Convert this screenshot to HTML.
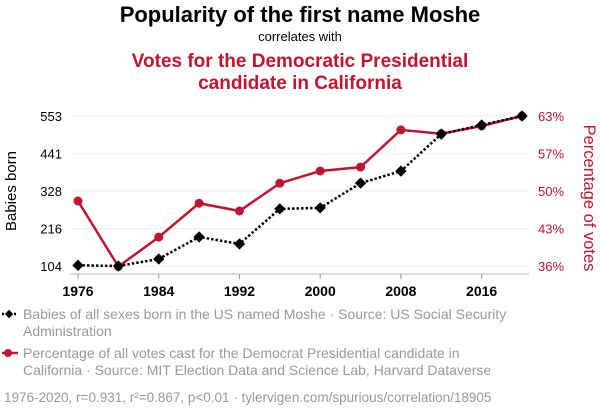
<!DOCTYPE html>
<html><head><meta charset="utf-8"><style>
body{margin:0;background:#fff;width:600px;height:414px;overflow:hidden;font-family:"Liberation Sans",sans-serif}
</style></head><body>
<svg width="600" height="414" xmlns="http://www.w3.org/2000/svg" font-family="Liberation Sans, sans-serif">
<text x="300" y="22" text-anchor="middle" font-size="22" font-weight="bold" fill="#000">Popularity of the first name Moshe</text>
<text x="300" y="41" text-anchor="middle" font-size="13" fill="#000">correlates with</text>
<text x="300" y="67" text-anchor="middle" font-size="19" font-weight="bold" fill="#c0152f">Votes for the Democratic Presidential</text>
<text x="300" y="89" text-anchor="middle" font-size="19" font-weight="bold" fill="#c0152f">candidate in California</text>
<g id="grid"></g><g id="axes"></g><g id="series"></g>
<text transform="translate(16,191) rotate(-90)" text-anchor="middle" font-size="15" fill="#000">Babies born</text>
<text transform="translate(584,198) rotate(90)" text-anchor="middle" font-size="16.5" fill="#c0152f">Percentage of votes</text>
<g>
<line x1="2" y1="314" x2="18" y2="314" stroke="#000" stroke-width="2.5" stroke-dasharray="2,2"/>
<rect x="6" y="311" width="6" height="6" transform="rotate(45 9 314)" fill="#000"/>
<text x="23" y="319" font-size="14" fill="#999">Babies of all sexes born in the US named Moshe · Source: US Social Security</text>
<text x="23" y="336" font-size="14" fill="#999">Administration</text></g>
<g>
<line x1="2" y1="353" x2="18" y2="353" stroke="#c0152f" stroke-width="2.5"/>
<circle cx="8" cy="353" r="4" fill="#c0152f"/>
<text x="23" y="358" font-size="14" fill="#999">Percentage of all votes cast for the Democrat Presidential candidate in</text>
<text x="23" y="375" font-size="14" fill="#999">California · Source: MIT Election Data and Science Lab, Harvard Dataverse</text></g>
<text x="4" y="402" font-size="13.5" fill="#999">1976-2020, r=0.931, r²=0.867, p&lt;0.01 · tylervigen.com/spurious/correlation/18905</text>
</svg>
<script>
const years=[1976,1980,1984,1988,1992,1996,2000,2004,2008,2012,2016,2020];
const babies=[106,104,125,191,170,275,278,352,388,499,526,553];
const votes=[47.7,35.9,41.2,47.3,45.9,50.9,53.1,53.8,60.5,59.8,61.2,63];
const xTicks=[1976,1984,1992,2000,2008,2016];
const leftTicks=[104,216,328,441,553];
const rightTicks=["36%","43%","50%","57%","63%"];
const NS="http://www.w3.org/2000/svg";
const x=v=>78+(v-1976)*(522-78)/44;
const yL=v=>266-(v-104)*150/449;
const yR=v=>266-(v-36)*150/27;
function mk(t,a,p){const e=document.createElementNS(NS,t);for(const k in a)e.setAttribute(k,a[k]);p.appendChild(e);return e;}
const grid=document.getElementById('grid'),axes=document.getElementById('axes'),ser=document.getElementById('series');
leftTicks.forEach((t,i)=>{const y=266-i*37.5;
const g=mk('line',{x1:70,x2:529,y1:y,y2:y,stroke:'#eee','stroke-width':1},grid);


const l=mk('text',{x:62,y:y+5,'text-anchor':'end','font-size':13,fill:'#000'},axes);l.textContent=t;


const r=mk('text',{x:538,y:y+5,'font-size':13,fill:'#c0152f'},axes);r.textContent=rightTicks[i];

});
const ax=mk('line',{x1:70,x2:529,y1:274,y2:274,stroke:'#bbb','stroke-width':1},axes);


xTicks.forEach(t=>{mk('line',{x1:x(t),x2:x(t),y1:274,y2:279,stroke:'#999'},axes);
const l=mk('text',{x:x(t),y:296,'text-anchor':'middle','font-size':14,'font-weight':'bold',fill:'#000'},axes);l.textContent=t;

});
const rp=mk('polyline',{points:years.map((yr,i)=>x(yr)+','+yR(votes[i])).join(' '),fill:'none',stroke:'#c0152f','stroke-width':2.5},ser);


years.forEach((yr,i)=>{const c=mk('circle',{cx:x(yr),cy:yR(votes[i]),r:4.5,fill:'#c0152f'},ser);

});
const bp=mk('polyline',{points:years.map((yr,i)=>x(yr)+','+yL(babies[i])).join(' '),fill:'none',stroke:'#000','stroke-width':2.5,'stroke-dasharray':'2.5,2'},ser);


years.forEach((yr,i)=>{const cx=x(yr),cy=yL(babies[i]);
const d=mk('rect',{x:cx-4,y:cy-4,width:8,height:8,fill:'#000',transform:`rotate(45 ${cx} ${cy})`},ser);

});
</script>
</body></html>
